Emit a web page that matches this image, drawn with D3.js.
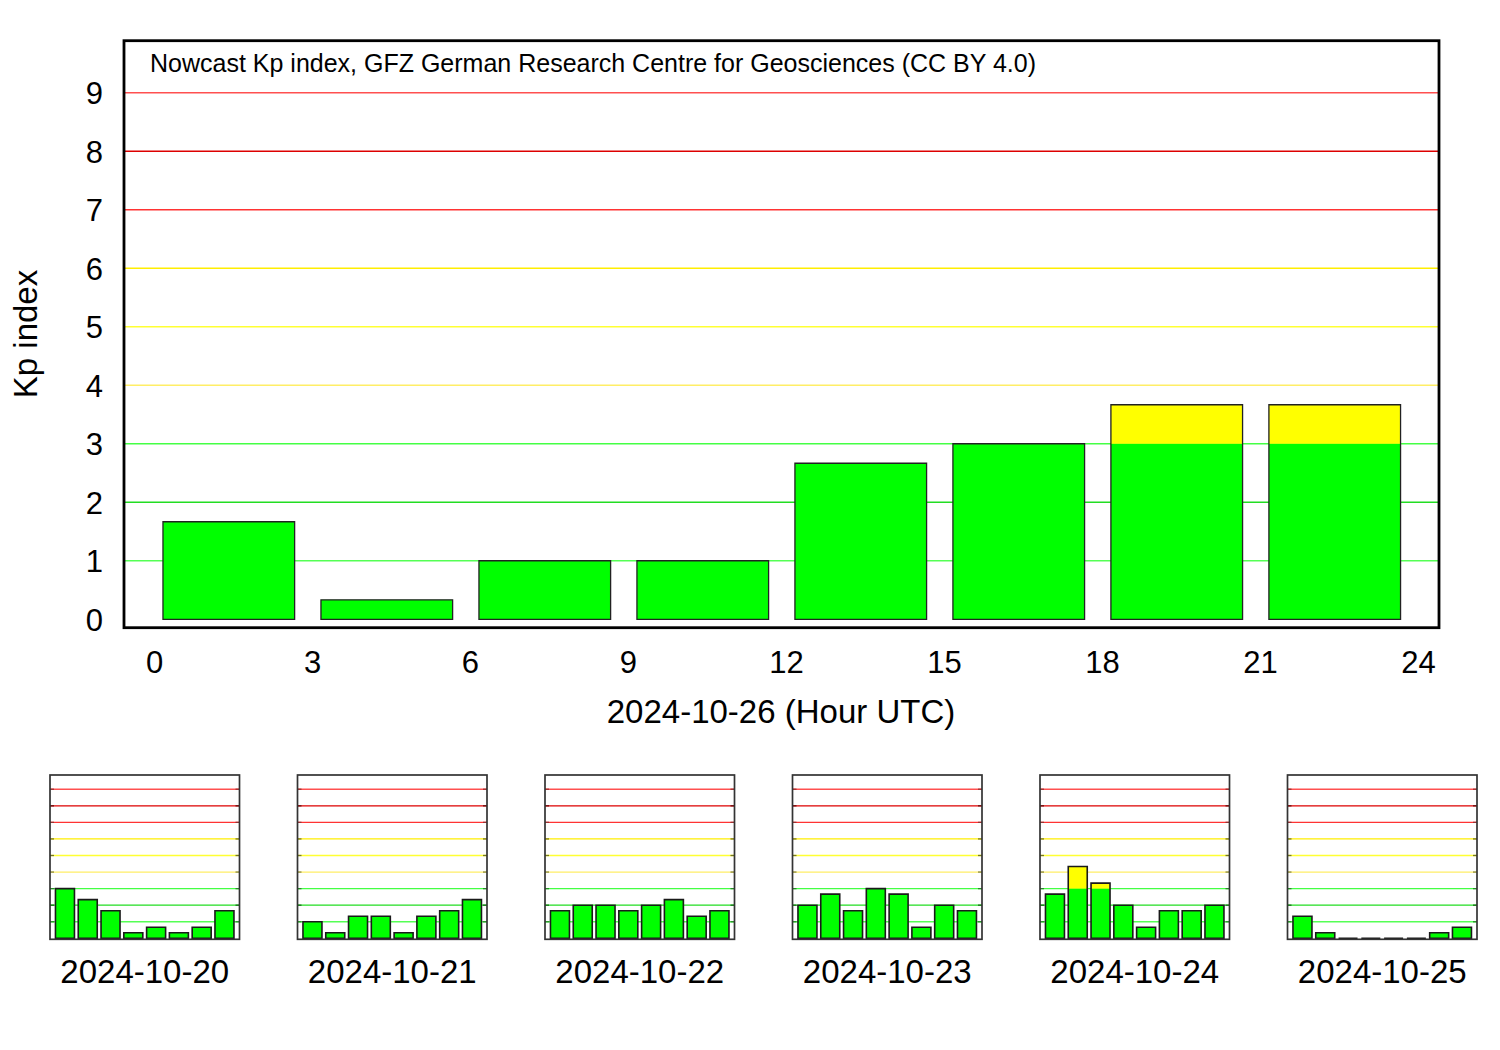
<!DOCTYPE html>
<html>
<head>
<meta charset="utf-8">
<script src="https://cdn.jsdelivr.net/npm/d3@7/dist/d3.min.js"></script>
<style>
  html, body { margin: 0; padding: 0; background: #fff; }
  svg { display: block; font-family: "Liberation Sans", Arial, Helvetica, sans-serif; }
</style>
</head>
<body>
<svg id="chart" width="1500" height="1050"></svg>
<script>
// ---------- data ----------
const mainDate = "2024-10-26";
const mainHours = [0, 3, 6, 9, 12, 15, 18, 21];
const mainKp = [1.667, 0.333, 1.0, 1.0, 2.667, 3.0, 3.667, 3.667];
const xTicks = [0, 3, 6, 9, 12, 15, 18, 21, 24];
const yTicks = [0, 1, 2, 3, 4, 5, 6, 7, 8, 9];
const gridLevels = [1, 2, 3, 4, 5, 6, 7, 8, 9];
const gridColors = ["#55ff55", "#22dd22", "#44ff44", "#ffee66", "#ffff33", "#ffee00", "#ff3333", "#dd0000", "#ff5050"];
const tickColors = ["#2a8a2a", "#1a6a1a", "#2a8a2a", "#888844", "#777722", "#777722", "#993333", "#661111", "#993333"];

const dayLabels = ["2024-10-20", "2024-10-21", "2024-10-22", "2024-10-23", "2024-10-24", "2024-10-25"];
const kp1020 = [3.0, 2.333, 1.667, 0.333, 0.667, 0.333, 0.667, 1.667];
const kp1021 = [1.0, 0.333, 1.333, 1.333, 0.333, 1.333, 1.667, 2.333];
const kp1022 = [1.667, 2.0, 2.0, 1.667, 2.0, 2.333, 1.333, 1.667];
const kp1023 = [2.0, 2.667, 1.667, 3.0, 2.667, 0.667, 2.0, 1.667];
const kp1024 = [2.667, 4.333, 3.333, 2.0, 0.667, 1.667, 1.667, 2.0];
const kp1025 = [1.333, 0.333, 0, 0, 0, 0, 0.333, 0.667];
const dailyKp = [kp1020, kp1021, kp1022, kp1023, kp1024, kp1025];

const bandLimits = [0, 3, 6, 9];
const bandColors = ["#00ff00", "#ffff00", "#ff0000"];

const titleText = "Nowcast Kp index, GFZ German Research Centre for Geosciences (CC BY 4.0)";

// ---------- drawing ----------
const svg = d3.select("#chart");
const barStart = 0.17, barWidth = 2.5;

function drawBars(g, x, y, hours, values, strokeW, strokeC) {
  hours.forEach((h, i) => {
    const v = values[i];
    const x0 = x(h + barStart), x1 = x(h + barStart + barWidth);
    for (let b = 0; b < bandColors.length; b++) {
      const lo = bandLimits[b], hi = Math.min(v, bandLimits[b + 1]);
      if (hi > lo) {
        g.append("rect")
          .attr("x", x0).attr("width", x1 - x0)
          .attr("y", y(hi)).attr("height", y(lo) - y(hi))
          .attr("fill", bandColors[b]);
      }
    }
    g.append("path")
      .attr("d", `M${x0},${y(0)}V${y(v)}H${x1}V${y(0)}Z`)
      .attr("fill", "none")
      .attr("stroke", strokeC)
      .attr("stroke-width", strokeW);
  });
}

// Main chart
const mx = d3.scaleLinear().domain([-0.57, 24.4]).range([124, 1439]);
const my = d3.scaleLinear().domain([-0.144, 9.89]).range([627.7, 40.7]);
const main = svg.append("g");

main.selectAll("line.grid").data(gridLevels).enter().append("line")
  .attr("x1", mx.range()[0]).attr("x2", mx.range()[1])
  .attr("y1", d => my(d)).attr("y2", d => my(d))
  .attr("stroke", (d, i) => gridColors[i]).attr("stroke-width", 1.5);

drawBars(main, mx, my, mainHours, mainKp, 1.3, "#222");

main.append("rect")
  .attr("x", mx.range()[0]).attr("y", my.range()[1])
  .attr("width", mx.range()[1] - mx.range()[0])
  .attr("height", my.range()[0] - my.range()[1])
  .attr("fill", "none").attr("stroke", "#000").attr("stroke-width", 2.8);

// axes
const yAxis = d3.axisLeft(my).tickValues(yTicks).tickSize(0).tickPadding(0);
const yg = main.append("g").attr("transform", "translate(103,0)").call(yAxis);
yg.select(".domain").remove();
yg.selectAll("text").attr("font-size", 31).attr("fill", "#000")
  .attr("font-family", "Liberation Sans, Arial, sans-serif").attr("dy", "0.36em");

const xAxis = d3.axisBottom(mx).tickValues(xTicks).tickSize(0).tickPadding(0);
const xg = main.append("g").attr("transform", "translate(0,673)").call(xAxis);
xg.select(".domain").remove();
xg.selectAll("text").attr("font-size", 31).attr("fill", "#000")
  .attr("font-family", "Liberation Sans, Arial, sans-serif").attr("dy", 0).attr("y", 0);

main.append("text").attr("x", 781).attr("y", 723).attr("text-anchor", "middle")
  .attr("font-size", 33).text(mainDate + " (Hour UTC)");

main.append("text").attr("transform", "translate(37,334) rotate(-90)")
  .attr("text-anchor", "middle").attr("font-size", 33).text("Kp index");

main.append("text").attr("x", 150).attr("y", 72).attr("font-size", 25).text(titleText);

// Small charts
const smallLefts = dayLabels.map((d, i) => 50 + i * 247.5);
dayLabels.forEach((lab, k) => {
  const left = smallLefts[k];
  const sx = d3.scaleLinear().domain([-0.55, 24.4]).range([left, left + 189.5]);
  const sy = d3.scaleLinear().domain([-0.06, 9.86]).range([939.3, 775]);
  const g = svg.append("g");
  g.selectAll("line.grid").data(gridLevels).enter().append("line")
    .attr("x1", sx.range()[0]).attr("x2", sx.range()[1])
    .attr("y1", d => sy(d)).attr("y2", d => sy(d))
    .attr("stroke", (d, i) => gridColors[i]).attr("stroke-width", 1.3);
  gridLevels.forEach((d, i) => {
    [[sx.range()[0], sx.range()[0] + 4], [sx.range()[1] - 4, sx.range()[1]]].forEach(([a, b]) => {
      g.append("line").attr("x1", a).attr("x2", b)
        .attr("y1", sy(d)).attr("y2", sy(d))
        .attr("stroke", tickColors[i]).attr("stroke-width", 1.3);
    });
  });
  drawBars(g, sx, sy, mainHours, dailyKp[k], 1.6, "#1a1a1a");
  g.append("rect")
    .attr("x", sx.range()[0]).attr("y", sy.range()[1])
    .attr("width", sx.range()[1] - sx.range()[0])
    .attr("height", sy.range()[0] - sy.range()[1])
    .attr("fill", "none").attr("stroke", "#333").attr("stroke-width", 1.7);
  g.append("text").attr("x", (sx.range()[0] + sx.range()[1]) / 2).attr("y", 983)
    .attr("text-anchor", "middle").attr("font-size", 33).text(lab);
});
</script>
</body>
</html>
